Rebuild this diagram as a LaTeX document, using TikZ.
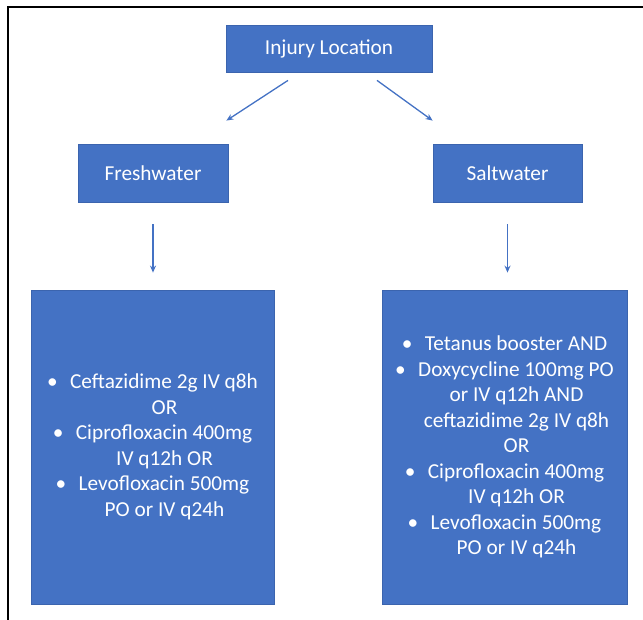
\documentclass[tikz,border=0pt]{standalone}
\usepackage{fontspec}
\setmainfont{Carlito}
\usetikzlibrary{arrows.meta,calc}
\definecolor{boxblue}{HTML}{4472C4}
\definecolor{boxedge}{HTML}{3B64AE}
\newcommand{\bul}{\makebox[23pt][l]{\textbullet}}
\newcommand{\cont}{\hspace*{24pt}}
\begin{document}
\begin{tikzpicture}[x=1pt,y=-1pt,
  box/.style={draw=boxedge,line width=0.8pt,fill=boxblue,text=white,
    font=\fontsize{21.3}{25.5}\selectfont,align=center,inner sep=0pt},
  arr/.style={draw=boxblue,line width=1.3pt,-{Stealth[length=7pt,width=6pt]}},
  frame/.style={line width=2pt,black}]
\useasboundingbox (0,0) rectangle (643,620);
\coordinate (ftop) at (643,7);
\coordinate (fcorner) at (7.5,7);
\coordinate (fbot) at (7.5,620);
\draw[frame] (ftop) -- (fcorner) -- (fbot);
\node[box,minimum width=206pt,minimum height=47pt] (inj) at (329,48.5) {Injury Location};
\node[box,minimum width=150pt,minimum height=58pt] (fresh) at (153,173) {Freshwater};
\node[box,minimum width=149pt,minimum height=58pt] (salt) at (507.5,173) {Saltwater};
\node[box,minimum width=243pt,minimum height=314pt] (lbox) at (152.5,447) {%
\bul Ceftazidime 2g IV q8h\\
\cont OR\\
\bul Ciprofloxacin 400mg\\
\cont IV q12h OR\\
\bul Levofloxacin 500mg\\
\cont PO or IV q24h};
\node[box,minimum width=245pt,minimum height=314pt] (rbox) at (504.5,447) {%
\bul Tetanus booster AND\\
\bul Doxycycline 100mg PO\\
\cont or IV q12h AND\\
\cont ceftazidime 2g IV q8h\\
\cont OR\\
\bul Ciprofloxacin 400mg\\
\cont IV q12h OR\\
\bul Levofloxacin 500mg\\
\cont PO or IV q24h};
\draw[arr] ($(inj.south)+(-41,8)$) -- ($(fresh.north east)+(-2,-23)$);
\draw[arr] ($(inj.south)+(48,8)$) -- ($(salt.north west)+(0,-23)$);
\draw[arr] ($(fresh.south)+(0,22)$) -- ($(fresh.south |- lbox.north)+(0,-17)$);
\draw[arr] ($(salt.south)+(0,22)$) -- ($(salt.south |- rbox.north)+(0,-17)$);
\end{tikzpicture}
\end{document}
